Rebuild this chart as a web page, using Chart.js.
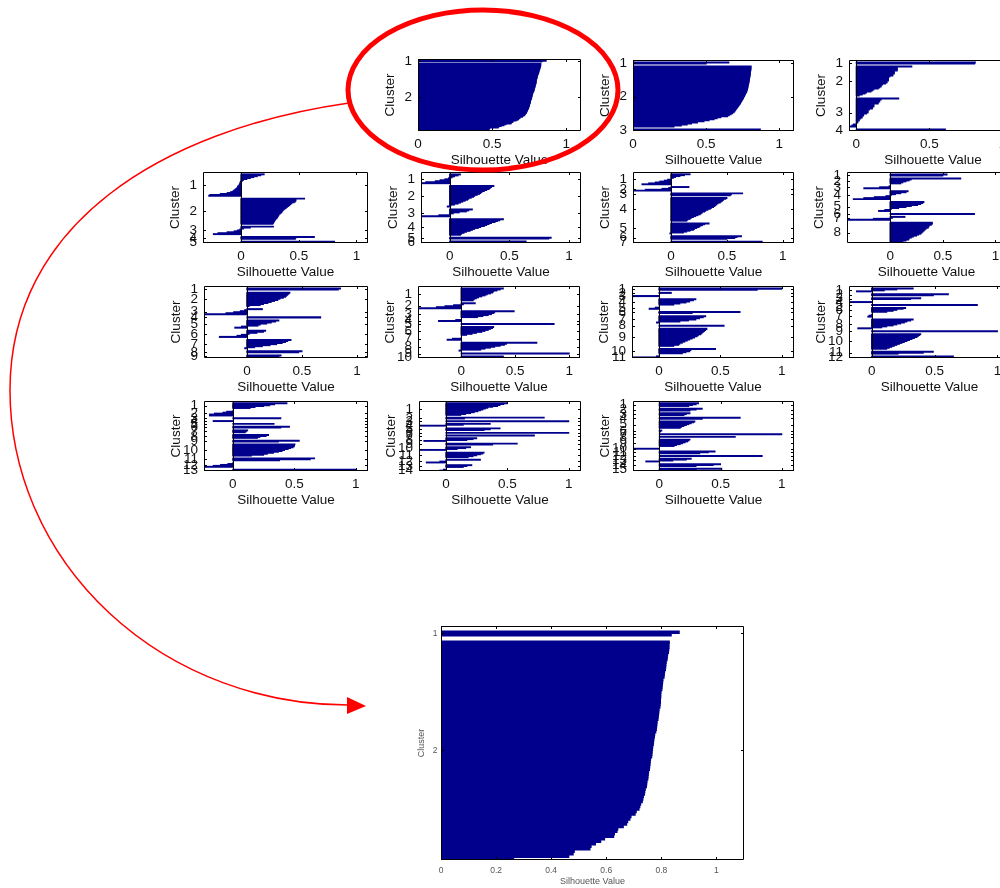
<!DOCTYPE html>
<html>
<head>
<meta charset="utf-8">
<title>Silhouette plots</title>
<script src="https://cdn.jsdelivr.net/npm/chart.js@4.4.1/dist/chart.umd.min.js"></script>
<style>
  html, body { margin: 0; padding: 0; background: #fff; width: 1000px; height: 888px; overflow: hidden; }
  #stage { position: relative; width: 1000px; height: 888px; overflow: hidden; }
  #stage canvas { position: absolute; }
  #marks { position: absolute; left: 0; top: 0; z-index: 10; pointer-events: none; }
</style>
</head>
<body>
<div id="stage">
<svg id="marks" width="1000" height="888" viewBox="0 0 1000 888">
  <ellipse cx="483" cy="90" rx="135" ry="80" fill="none" stroke="#f00" stroke-width="5"/>
  <path d="M349,103 C160,130 10,225 10,390 A338,315 0 0 0 348,705" fill="none" stroke="#f00" stroke-width="1.5"/>
  <polygon points="366,706 347,697 347,714" fill="#f00"/>
</svg>
</div>
<script>
const cluster_names = ['1','2','3','4','5','6','7','8','9','10','11','12','13','14','15']
const x_ticks_small = [0, 0.5, 1]
const x_ticks_big = [0, 0.2, 0.4, 0.6, 0.8, 1]

// silhouette values, one list per cluster, sorted as in the plots
const sil_k2 = [
  [0.865, 0.836],
  [0.829,0.828,0.828,0.827,0.826, 0.823,0.822,0.821, 0.818,0.817,0.816,0.815, 0.812,0.811,0.810,
   0.806,0.805,0.804,0.803,0.802, 0.799,0.798,0.798,0.797,0.797,0.796,0.795, 0.792,0.791,0.790,0.789,0.788,
   0.785,0.784,0.783,0.782,0.780, 0.776,0.775,0.773,0.772,0.771, 0.769,0.768,0.767,0.766,0.765,
   0.761,0.760,0.759,0.758,0.757, 0.754,0.753,0.752,0.751, 0.748,0.747,0.746, 0.742,0.740,0.739,
   0.735,0.733,0.731, 0.725,0.722,0.719, 0.709,0.705, 0.690,0.686, 0.678,0.674, 0.662, 0.642,0.639,
   0.630,0.627, 0.594, 0.580, 0.561, 0.545,0.541, 0.484,0.480, 0.464, 0.264]
]
const sil_k3 = [
  [0.655, 0.50],
  [0.807,0.806,0.806,0.805,0.804,0.803,0.802,0.802,0.801,0.800, 0.798,0.797,0.796,0.795,0.794,0.793,0.791,0.790,
   0.788,0.787,0.785,0.784,0.782,0.780,0.778,0.776, 0.772,0.768,0.765,0.762,0.758,0.755,0.751,0.747,0.743,0.739,
   0.735,0.731, 0.725,0.720,0.715,0.710,0.705,0.700,0.695,0.690, 0.680,0.670,0.658,0.646, 0.600,0.575,0.554,
   0.520,0.485, 0.440,0.400,0.370, 0.330,0.280],
  [0.870, 0.840]
]
const sil_k4 = [
  [0.815, 0.810],
  [0.38, 0.28,0.28,0.28,0.28, 0.26,0.26,0.26,0.25,0.25, 0.23,0.22,0.22,0.22,0.22,0.21,0.21,0.20,
   0.18,0.17,0.17,0.16,0.15, 0.12,0.11,0.10, 0.07,0.06,0.04, 0.02],
  [0.29, 0.17,0.16,0.16,0.15,0.15, 0.12,0.12,0.12,0.11,0.11, 0.09,0.08,0.08,0.08,0.07, 0.05,0.05,0.04,0.04,0.03,
   0.02,0.02,0.01,0.01, 0.0, -0.02,-0.03,-0.05],
  [0.61, 0.12]
]
const sil_k5 = [
  [0.20,0.17,0.14,0.11,0.08,0.05,0.02,0.01,-0.005,-0.01,-0.01,-0.015,-0.02,-0.03,-0.03,-0.04,-0.05,-0.06,-0.07,
   -0.09,-0.12,-0.18,-0.27,-0.28],
  [0.55, 0.475,0.475,0.47,0.46, 0.44,0.43,0.42,0.41,0.40, 0.39,0.38,0.37,0.36,0.355, 0.35,0.34,0.33,0.325,0.32,
   0.315,0.31,0.30,0.295,0.29, 0.285,0.28,0.275],
  [0.28,0.08,0.02,-0.01,-0.03,-0.06,-0.12,-0.20,-0.24],
  [0.635,0.475,0.47],
  [0.81,0.79]
]
const sil_k6 = [
  [0.09,0.07,0.04,0.02,-0.01,-0.04,-0.08,-0.12,-0.20,-0.23],
  [0.37,0.35,0.34,0.33,0.31,0.29,0.27,0.26,0.25,0.23,0.21,0.20,0.18,0.16,0.15,0.13,0.11,0.09,0.07,0.04,0.01,-0.02],
  [0.19,0.16,0.14,0.08,0.03,0.0,-0.09,-0.26],
  [0.45,0.42,0.40,0.38,0.35,0.33,0.31,0.29,0.26,0.24,0.21,0.19,0.17,0.14,0.12,0.10,0.09],
  [0.85,0.83],
  [0.64,0.10]
]
const sil_k7 = [
  [0.17,0.12,0.08,0.04,0.02,0.0,-0.03,-0.06,-0.10,-0.14,-0.20,-0.26],
  [0.16,-0.02,-0.08,-0.23,-0.33],
  [0.64,0.54,0.53],
  [0.50,0.49,0.47,0.46,0.45,0.44,0.42,0.41,0.40,0.39,0.38,0.36,0.35,0.33,0.31,0.30,0.28,0.27,0.26,0.24,0.22,0.20,
   0.18,0.17,0.15,0.14],
  [0.34,0.30,0.28,0.26,0.25,0.23,0.21,0.20,0.17,0.14,0.11,-0.01],
  [0.63,0.59,0.57,0.50],
  [0.815,0.80]
]
const sil_k8 = [
  [0.54,0.50],
  [0.67,0.20,0.18,0.15,0.12,0.10],
  [-0.01,-0.10,-0.25],
  [0.17,0.15,0.10,0.05,0.01,-0.04,-0.15,-0.25,-0.35],
  [0.32,0.31,0.29,0.26,0.20,0.15,0.08,0.01,-0.05,-0.11],
  [0.80],
  [0.14,0.02,-0.16,-0.41],
  [0.40,0.40,0.39,0.37,0.365,0.36,0.34,0.33,0.32,0.31,0.30,0.29,0.27,0.25,0.22,0.20,0.18,0.175,0.15,0.12,0.10]
]
const sil_k9 = [
  [0.85,0.83],
  [0.39,0.38,0.37,0.36,0.35,0.33,0.30,0.28,0.25,0.22,0.19,0.15,0.12,0.02],
  [0.14,-0.02,-0.06,-0.12,-0.19,-0.39],
  [0.67],
  [0.29,0.26,0.22,0.18,0.12,0.10,-0.05,-0.11],
  [0.17,0.15,0.09,0.02,-0.05,-0.09,-0.25],
  [0.40,0.37,0.35,0.32,0.27,0.21,0.14,0.07,-0.02],
  [0.50,0.47],
  [0.31,0.29,0.27]
]
const sil_k10 = [
  [0.39,0.36,0.33,0.30,0.29,0.27,0.24,0.22,0.19,0.16,0.14,0.12,0.11],
  [0.13,0.02,-0.07,-0.15,-0.23,-0.40],
  [0.49,0.31,0.30,0.28,0.25,0.20,0.15],
  [-0.05,-0.21],
  [0.86],
  [0.30,0.29,0.27,0.25,0.22,0.19,0.14,0.10,0.05],
  [0.0,-0.08,-0.13],
  [0.70,0.42,0.40,0.36,0.31,0.27,0.22,0.18,-0.02],
  [1.0],
  [0.39,0.37]
]
const sil_k11 = [
  [1.0,0.80],
  [0.10],
  [-0.22],
  [0.30,0.28,0.25,0.22,0.17,0.12],
  [-0.03,-0.08],
  [0.66,0.27],
  [0.38,0.36,0.33,0.30,0.24,0.17,-0.02],
  [0.53],
  [0.39,0.38,0.37,0.36,0.35,0.34,0.32,0.31,0.29,0.27,0.25,0.23,0.21,0.19,0.17,0.16,0.12],
  [0.46,0.26,0.25,0.22,0.19],
  [-0.02,-0.22]
]
const sil_k12 = [
  [0.33,0.20,0.10,-0.12],
  [0.61,0.49],
  [0.39,0.31],
  [-0.18],
  [0.84],
  [0.27,0.25,0.20,0.17,0.12],
  [0.0,-0.02,-0.03],
  [0.33,0.31,0.28,0.26,0.23,0.20,0.17,0.12,0.08,-0.11],
  [1.0],
  [0.39,0.38,0.37,0.36,0.34,0.32,0.30,0.28,0.26,0.24,0.22,0.20,0.18,0.16,0.14,0.12],
  [0.49,0.41,0.21],
  [0.65,0.64]
]
const sil_k13 = [
  [0.44,0.34,0.30,0.25,0.18,0.14],
  [0.0,-0.05,-0.08,-0.15,-0.19,-0.19],
  [0.39],
  [-0.16],
  [0.335],
  [0.46,0.39],
  [0.12,0.11,0.10],
  [0.29,0.27,0.22,0.20],
  [0.54,0.37],
  [0.505,0.50,0.50,0.49,0.47,0.45,0.42,0.40,0.37,0.33,0.28,0.25,0.15],
  [0.665,0.63,0.38],
  [0.0,-0.04,-0.10,-0.16,-0.24],
  [1.0,0.83]
]
const sil_k14 = [
  [0.50,0.47,0.44,0.42,0.38,0.34,0.32,0.30,0.28,0.26,0.23,0.20,0.16,0.12],
  [0.80,0.15],
  [1.0],
  [0.36,0.14,-0.21],
  [0.44,0.36,0.31],
  [1.0],
  [0.72],
  [0.25,0.22,0.17,-0.18],
  [0.58,0.38],
  [0.20,0.16,0.09,-0.22],
  [0.31,0.30,0.28,0.25,0.22,0.18],
  [0.28,0.0,-0.05,-0.16],
  [0.21,0.17,0.14],
  [-0.02,-0.05]
]
const sil_k15 = [
  [0.32,0.30,0.27,0.24],
  [0.35,0.30,0.25],
  [0.25,0.22,0.20],
  [0.66,0.35],
  [0.29,0.28,0.26,0.24,0.22,0.20,0.18,0.17],
  [0.02,0.01],
  [1.0],
  [0.62],
  [0.25,0.24,0.23,0.21,0.19,0.17,0.14,0.12],
  [-0.21],
  [0.455,0.40,0.33],
  [0.84],
  [0.26,0.22,0.11,-0.11],
  [0.50,0.44,0.30],
  [0.51,0.30,0.29]
]

const NAVY = 'rgb(0,0,140)'
const GAP = 2

Chart.defaults.font.family = "'Liberation Sans', Arial, Helvetica, sans-serif"

const small = { title: 13.5, tick: 13.5, color: '#111', padL: 48, padT: 16, padR: 4, padB: 42,
  yTitlePad: 11.9, xTitlePad: 4.4, xTickPad: 4.9, yTickPad: 6, mark: 3 }
const big = { title: 9, tick: 8.5, color: '#555', padL: 30, padT: 10, padR: 4, padB: 29,
  yTitlePad: 5.3, xTitlePad: 1.6, xTickPad: 5.9, yTickPad: 3.5, mark: 3 }

const panels = [
  { data: sil_k2,  left: 418, top: 59,  right: 580,  bottom: 130, xmin: 0 },
  { data: sil_k3,  left: 633, top: 60,  right: 793,  bottom: 130, xmin: 0 },
  { data: sil_k4,  left: 849, top: 60,  right: 1016, bottom: 130, xmin: -0.05 },
  { data: sil_k5,  left: 203, top: 172, right: 367,  bottom: 242, xmin: -0.33 },
  { data: sil_k6,  left: 421, top: 172, right: 580,  bottom: 242, xmin: -0.24 },
  { data: sil_k7,  left: 633, top: 172, right: 793,  bottom: 242, xmin: -0.34 },
  { data: sil_k8,  left: 847, top: 172, right: 1005, bottom: 242, xmin: -0.41 },
  { data: sil_k9,  left: 204, top: 286, right: 367,  bottom: 357, xmin: -0.39 },
  { data: sil_k10, left: 418, top: 286, right: 579,  bottom: 357, xmin: -0.40 },
  { data: sil_k11, left: 632, top: 286, right: 793,  bottom: 357, xmin: -0.22 },
  { data: sil_k12, left: 849, top: 286, right: 1009, bottom: 357, xmin: -0.18 },
  { data: sil_k13, left: 204, top: 401, right: 367,  bottom: 470, xmin: -0.235 },
  { data: sil_k14, left: 419, top: 401, right: 580,  bottom: 470, xmin: -0.22 },
  { data: sil_k15, left: 633, top: 401, right: 793,  bottom: 470, xmin: -0.215 },
  { data: sil_k2,  left: 441, top: 626, right: 743,  bottom: 859, xmin: 0, big: true }
]

// box, zero line and inward ticks like the matlab axes
const matlabBox = {
  id: 'matlabBox',
  afterDatasetsDraw(chart, args, opts) {
    const ctx = chart.ctx
    const a = chart.chartArea
    const x = chart.scales.x, y = chart.scales.y
    const t = opts.mark
    ctx.save()
    ctx.strokeStyle = opts.color
    ctx.lineWidth = 1
    ctx.beginPath()
    const x0 = Math.round(x.getPixelForValue(0)) + 0.5
    ctx.moveTo(x0, a.top)
    ctx.lineTo(x0, a.bottom)
    ctx.rect(a.left + 0.5, a.top + 0.5, a.right - a.left - 1, a.bottom - a.top - 1)
    x.ticks.forEach(tk => {
      const px = Math.round(x.getPixelForValue(tk.value)) + 0.5
      ctx.moveTo(px, a.bottom); ctx.lineTo(px, a.bottom - t)
      ctx.moveTo(px, a.top); ctx.lineTo(px, a.top + t)
    })
    y.ticks.forEach(tk => {
      const py = Math.round(y.getPixelForValue(tk.value)) + 0.5
      ctx.moveTo(a.left, py); ctx.lineTo(a.left + t, py)
      ctx.moveTo(a.right, py); ctx.lineTo(a.right - t, py)
    })
    ctx.stroke()
    ctx.restore()
  }
}

function layoutRows(clusters) {
  const points = [], centers = []
  let cnt = GAP
  clusters.forEach(c => {
    c.forEach((v, j) => points.push({ x: v, y: cnt + j + 1 }))
    centers.push(cnt + (c.length + 1) / 2)
    cnt += c.length + GAP
  })
  return { points, centers, rows: cnt - GAP }
}

const stage = document.getElementById('stage')
const marks = document.getElementById('marks')

function drawPanel(p) {
  const st = p.big ? big : small
  const rows = layoutRows(p.data)
  const names = cluster_names.slice(0, p.data.length)
  const xt = p.big ? x_ticks_big : x_ticks_small
  const w = p.right - p.left + 1, h = p.bottom - p.top + 1
  const cv = document.createElement('canvas')
  cv.width = w + st.padL + st.padR
  cv.height = h + st.padT + st.padB
  cv.style.left = (p.left - st.padL) + 'px'
  cv.style.top = (p.top - st.padT) + 'px'
  stage.insertBefore(cv, marks)

  new Chart(cv, {
    type: 'bar',
    data: {
      datasets: [{
        data: rows.points,
        backgroundColor: NAVY,
        borderWidth: 0,
        barPercentage: 1,
        categoryPercentage: 1,
        inflateAmount: 0.5,
        clip: 0
      }]
    },
    options: {
      indexAxis: 'y',
      responsive: false,
      animation: false,
      devicePixelRatio: 1,
      events: [],
      layout: { padding: { left: 0, top: st.padT, right: st.padR, bottom: 0 } },
      plugins: {
        legend: { display: false },
        tooltip: { enabled: false },
        matlabBox: { color: '#000', mark: st.mark }
      },
      scales: {
        x: {
          type: 'linear',
          min: p.xmin,
          max: 1.1,
          afterBuildTicks: s => { s.ticks = xt.map(v => ({ value: v })) },
          afterFit: s => { s.height = st.padB },
          grid: { display: false, drawTicks: false },
          border: { display: false },
          ticks: { autoSkip: false, maxRotation: 0, padding: st.xTickPad, color: st.color,
            font: { size: st.tick }, callback: v => String(v) },
          title: { display: true, text: 'Silhouette Value', color: st.color,
            font: { size: st.title }, padding: { top: 0, bottom: st.xTitlePad } }
        },
        y: {
          type: 'linear',
          reverse: true,
          offset: false,
          min: 0.5,
          max: rows.rows + 0.5,
          afterBuildTicks: s => { s.ticks = rows.centers.map(v => ({ value: v })) },
          afterFit: s => { s.width = st.padL },
          grid: { display: false, drawTicks: false },
          border: { display: false },
          ticks: { autoSkip: false, padding: st.yTickPad, color: st.color,
            font: { size: st.tick }, callback: (v, i) => names[i] },
          title: { display: true, text: 'Cluster', color: st.color,
            font: { size: st.title }, padding: { top: st.yTitlePad, bottom: 0 } }
        }
      }
    },
    plugins: [matlabBox]
  })
}

panels.forEach(drawPanel)
</script>
</body>
</html>
